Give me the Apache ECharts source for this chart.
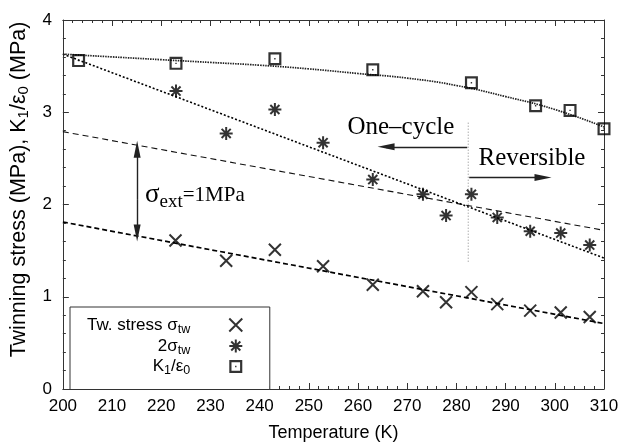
<!DOCTYPE html>
<html>
<head>
<meta charset="utf-8">
<script src="https://cdn.jsdelivr.net/npm/echarts@6/dist/echarts.min.js"></script>
<style>
  html, body { margin: 0; padding: 0; background: #fff; }
  #main { width: 622px; height: 447px; }
</style>
</head>
<body>
<div id="main"></div>
<script>
// 测量点 (温度 K)
var twT = [222.9, 233.2, 243.1, 252.9, 263.0, 273.2, 277.9, 283.05, 288.3, 295.0, 301.2, 307.1];
var twStress = [1.61, 1.39, 1.51, 1.33, 1.13, 1.06, 0.94, 1.05, 0.92, 0.85, 0.83, 0.78];
var twoT = [223.0, 233.2, 243.1, 252.9, 263.0, 273.2, 277.9, 283.05, 288.3, 295.0, 301.2, 307.1];
var twoStress = [3.23, 2.77, 3.03, 2.67, 2.27, 2.11, 1.88, 2.11, 1.86, 1.71, 1.69, 1.56];
var kT = [203.2, 223.0, 243.1, 263.0, 283.05, 296.1, 303.1, 310.0];
var kVal = [3.56, 3.53, 3.58, 3.46, 3.32, 3.07, 3.02, 2.82];

// 拟合线
var fitT = [200, 310];
var fitTw = [1.81, 0.71];
var fitTwExt = [2.79, 1.72];
var fitTwo = [3.63, 1.42];
var kFitT = [200, 210, 220, 230, 240, 250, 260, 270, 280, 290, 300, 310];
var kFitVal = [3.63, 3.60, 3.57, 3.54, 3.51, 3.47, 3.42, 3.37, 3.29, 3.17, 3.03, 2.84];

// 分界线 282 K
var splitT = [282.4, 282.4];
var splitVal = [1.38, 2.90];

var xTicks = [200, 210, 220, 230, 240, 250, 260, 270, 280, 290, 300, 310];
var yTicks = [0, 1, 2, 3, 4];

function pairs(xs, ys) {
    var out = [];
    for (var i = 0; i < xs.length; i++) {
        out.push([xs[i], ys[i]]);
    }
    return out;
}

var SANS = 'Liberation Sans';
var SERIF = 'Liberation Serif';
var INK = '#000';
var FRAME = '#333';

var symCross = 'path://M0,0L12,12M12,0L0,12';
var symStar = 'path://M6,0V12M0,6H12M1.8,1.8L10.2,10.2M10.2,1.8L1.8,10.2';
var symBox = 'path://M0,0H13V13H0Z M2.2,2.2V10.8H10.8V2.2Z M5.8,5.8H7.2V7.2H5.8Z';

var legendText = {
    tw: '{t|Tw. stress σ}{s|tw}{g|}',
    two: '{t|2σ}{s|tw}{g|}',
    k: '{t|K}{s|1}{t|/ε}{s|0}{g|}'
};

function axisX(pos, showLabel) {
    return {
        type: 'value',
        position: pos,
        min: xTicks[0],
        max: xTicks[xTicks.length - 1],
        interval: 10,
        axisLine: { show: true, onZero: false, lineStyle: { color: FRAME, width: 1 } },
        axisTick: { show: true, inside: true, length: 6, lineStyle: { color: FRAME } },
        minorTick: { show: true, splitNumber: 5, length: 3, lineStyle: { color: FRAME } },
        splitLine: { show: false },
        axisLabel: { show: showLabel, fontFamily: SANS, fontSize: 17, color: INK, margin: 9 },
        name: showLabel ? 'Temperature (K)' : '',
        nameLocation: 'middle',
        nameGap: 35,
        nameTextStyle: { fontFamily: SANS, fontSize: 18, color: INK }
    };
}

function axisY(pos, showLabel) {
    return {
        type: 'value',
        position: pos,
        min: yTicks[0],
        max: yTicks[yTicks.length - 1],
        interval: 1,
        axisLine: { show: true, onZero: false, lineStyle: { color: FRAME, width: 1 } },
        axisTick: { show: true, inside: true, length: 6, lineStyle: { color: FRAME } },
        minorTick: { show: true, splitNumber: 5, length: 3, lineStyle: { color: FRAME } },
        splitLine: { show: false },
        axisLabel: { show: showLabel, fontFamily: SANS, fontSize: 17, color: INK, margin: 11 },
        name: showLabel ? '{t|Twinning stress (MPa), K}{s|1}{t|/ε}{s|0}{t| (MPa)}' : '',
        nameLocation: 'middle',
        nameGap: 30,
        nameRotate: 90,
        nameTextStyle: {
            fontFamily: SANS, color: INK,
            padding: [0, 0, 0, 30],
            rich: {
                t: { fontFamily: SANS, fontSize: 21.5, color: INK },
                s: { fontFamily: SANS, fontSize: 15, color: INK, padding: [10, 0, 0, 0] }
            }
        }
    };
}

var chart = echarts.init(document.getElementById('main'), null, { renderer: 'canvas' });

var option = {
    animation: false,
    backgroundColor: '#fff',
    grid: { left: 60, top: 20, width: 544, height: 374, containLabel: false },
    xAxis: [axisX('bottom', true), axisX('top', false)],
    yAxis: [axisY('left', true), axisY('right', false)],
    legend: {
        data: ['tw', 'two', 'k'],
        orient: 'vertical',
        align: 'right',
        left: 70,
        top: 307,
        padding: [9, 25, 12, 17],
        itemGap: 1,
        itemWidth: 13,
        itemHeight: 13,
        borderColor: FRAME,
        borderWidth: 1,
        backgroundColor: '#fff',
        selectedMode: false,
        formatter: function (name) {
            return legendText[name];
        },
        textStyle: {
            fontFamily: SANS,
            color: INK,
            rich: {
                t: { fontFamily: SANS, fontSize: 17, color: INK },
                s: { fontFamily: SANS, fontSize: 12.5, color: INK, padding: [9, 0, 0, 0] },
                g: { width: 34 }
            }
        }
    },
    series: [
        {
            name: 'fitTw', type: 'line', showSymbol: false, silent: true,
            data: pairs(fitT, fitTw),
            lineStyle: { color: '#000', width: 1.7, type: [5, 3] }
        },
        {
            name: 'fitTwExt', type: 'line', showSymbol: false, silent: true,
            data: pairs(fitT, fitTwExt),
            lineStyle: { color: '#111', width: 1.1, type: [6, 4] }
        },
        {
            name: 'fitTwo', type: 'line', showSymbol: false, silent: true,
            data: pairs(fitT, fitTwo),
            lineStyle: { color: '#000', width: 1.6, type: [2, 2] }
        },
        {
            name: 'fitK', type: 'line', showSymbol: false, silent: true, smooth: true,
            data: pairs(kFitT, kFitVal),
            lineStyle: { color: '#222', width: 1.7, type: [1.5, 1] }
        },
        {
            name: 'split', type: 'line', showSymbol: false, silent: true,
            data: pairs(splitT, splitVal),
            lineStyle: { color: '#888', width: 1, type: [1, 2] },
            markLine: {
                silent: true,
                symbol: ['none', 'triangle'],
                symbolSize: [7, 17],
                label: { show: false },
                lineStyle: { color: '#222', width: 1.4, type: 'solid' },
                data: [
                    [{ coord: [282.2, 2.625] }, { coord: [265.7, 2.625] }],
                    [{ coord: [282.6, 2.293] }, { coord: [297.6, 2.293] }],
                    [{ coord: [215.1, 2.05], symbol: 'none' }, { coord: [215.1, 2.60], symbol: 'triangle' }],
                    [{ coord: [215.1, 2.05], symbol: 'none' }, { coord: [215.1, 1.69], symbol: 'triangle' }]
                ]
            }
        },
        {
            name: 'tw', type: 'scatter', clip: false, z: 5,
            symbol: symCross, symbolSize: 12,
            itemStyle: { color: 'none', borderColor: '#000', borderWidth: 2 },
            data: pairs(twT, twStress)
        },
        {
            name: 'two', type: 'scatter', clip: false, z: 5,
            symbol: symStar, symbolSize: 13,
            itemStyle: { color: 'none', borderColor: '#000', borderWidth: 2 },
            data: pairs(twoT, twoStress)
        },
        {
            name: 'k', type: 'scatter', clip: false, z: 5,
            symbol: symBox, symbolSize: 13,
            itemStyle: { color: '#000', borderWidth: 0 },
            data: pairs(kT, kVal)
        }
    ]
};
chart.setOption(option);

/** 注释文字 (数据坐标 -> 像素) */
function note(T, v, text, align, rich) {
    var p = chart.convertToPixel({ gridIndex: 0 }, [T, v]);
    return {
        type: 'text', x: p[0], y: p[1], z: 10, silent: true,
        style: {
            text: text, align: align, verticalAlign: 'middle',
            fontFamily: SERIF, fontSize: 25, fill: INK, rich: rich
        }
    };
}

chart.setOption({
    graphic: [
        note(268.7, 2.84, 'One–cycle', 'center'),
        note(284.5, 2.50, 'Reversible', 'left'),
        note(216.7, 2.10, '{s|σ}{e|ext}{n|=1MPa}', 'left', {
            s: { fontFamily: SERIF, fontSize: 27, fill: INK },
            e: { fontFamily: SERIF, fontSize: 19, fill: INK, padding: [14, 0, 0, 0] },
            n: { fontFamily: SERIF, fontSize: 21, fill: INK }
        })
    ]
});
</script>
</body>
</html>
